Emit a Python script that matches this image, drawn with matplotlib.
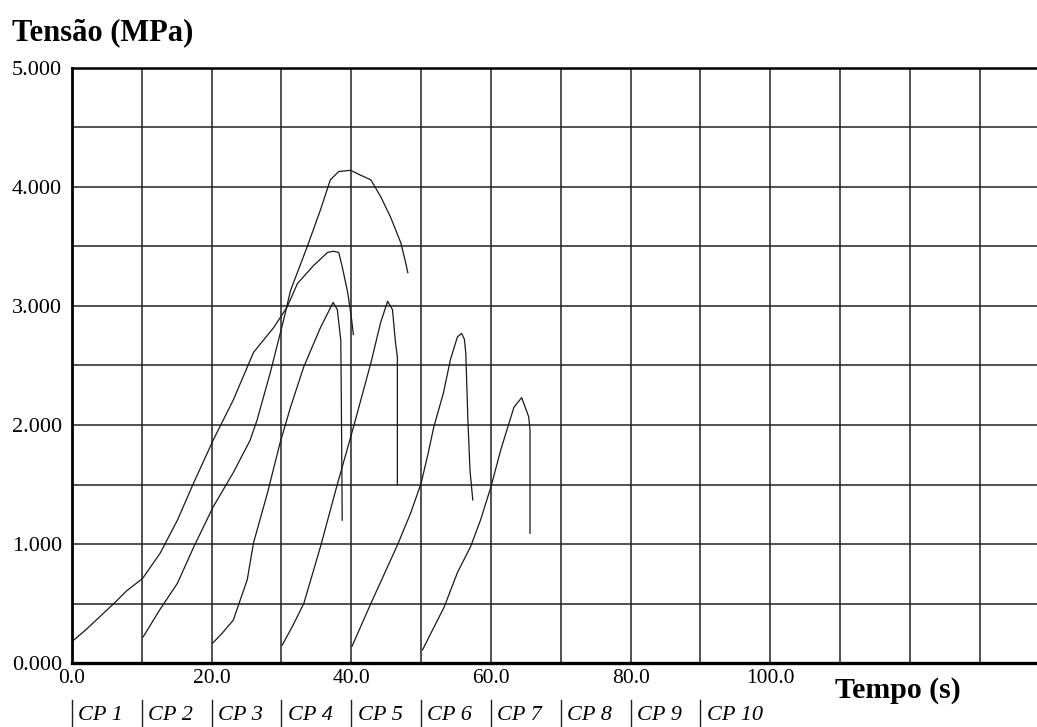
import matplotlib
matplotlib.use("Agg")
import matplotlib.pyplot as plt
import matplotlib.transforms as mtransforms

plt.rcParams['font.family'] = ['Liberation Serif', 'DejaVu Serif']

# curves: time (s) and stress (MPa) for each specimen
t_cp1 = [0.0, 2.0, 4.0, 6.0, 7.9, 10.1, 12.6, 15.1, 17.4, 20.2, 23.1, 26.0, 28.9, 30.8,
         32.3, 34.6, 36.6, 37.4, 38.2, 38.7, 39.5, 40.0, 40.3]
s_cp1 = [0.18, 0.28, 0.39, 0.50, 0.61, 0.71, 0.92, 1.20, 1.51, 1.87, 2.21, 2.61, 2.82, 2.99,
         3.19, 3.34, 3.45, 3.46, 3.45, 3.33, 3.11, 2.91, 2.76]

t_cp2 = [10.2, 12.6, 15.1, 17.4, 20.2, 23.1, 25.5, 26.5, 28.4, 30.3, 31.3, 33.7, 35.6,
         37.0, 38.2, 39.9, 41.3, 42.8, 44.2, 45.6, 47.1, 47.8, 48.1]
s_cp2 = [0.22, 0.45, 0.67, 0.97, 1.31, 1.60, 1.87, 2.04, 2.44, 2.88, 3.13, 3.50, 3.81,
         4.06, 4.13, 4.14, 4.10, 4.06, 3.92, 3.75, 3.53, 3.36, 3.28]

t_cp3 = [20.2, 21.5, 23.1, 25.1, 26.0, 28.0, 29.8, 31.3, 33.2, 35.6, 37.4, 38.0, 38.5, 38.6, 38.7]
s_cp3 = [0.17, 0.25, 0.36, 0.70, 1.01, 1.43, 1.85, 2.15, 2.49, 2.82, 3.03, 2.97, 2.71, 2.02, 1.20]

t_cp4 = [30.1, 31.5, 33.2, 35.6, 37.9, 40.3, 42.8, 44.2, 45.2, 45.9, 46.3, 46.6, 46.6]
s_cp4 = [0.15, 0.30, 0.50, 0.98, 1.48, 1.98, 2.52, 2.86, 3.04, 2.97, 2.71, 2.57, 1.50]

t_cp5 = [40.1, 42.8, 46.6, 48.5, 50.0, 51.0, 51.8, 53.2, 54.2, 55.2, 55.8, 56.2, 56.4,
         56.7, 57.0, 57.4]
s_cp5 = [0.14, 0.50, 0.99, 1.26, 1.51, 1.76, 1.98, 2.27, 2.55, 2.74, 2.77, 2.72, 2.60,
         2.04, 1.62, 1.37]

t_cp6 = [50.2, 51.4, 53.3, 55.2, 57.1, 58.5, 60.0, 61.4, 62.4, 63.3, 64.4, 65.4, 65.6, 65.6]
s_cp6 = [0.11, 0.25, 0.47, 0.76, 0.98, 1.20, 1.48, 1.79, 1.98, 2.15, 2.23, 2.07, 1.96, 1.09]

curves = [(t_cp1, s_cp1), (t_cp2, s_cp2), (t_cp3, s_cp3),
          (t_cp4, s_cp4), (t_cp5, s_cp5), (t_cp6, s_cp6)]

# specimen labels under the axis, one per 10 s slot
cp_labels = ['CP 1', 'CP 2', 'CP 3', 'CP 4', 'CP 5', 'CP 6', 'CP 7', 'CP 8', 'CP 9', 'CP 10']
cp_starts = [0, 10, 20, 30, 40, 50, 60, 70, 80, 90]

x_labels = [0, 20, 40, 60, 80, 100]
y_labels = [0, 1, 2, 3, 4, 5]

fig = plt.figure(figsize=(10.37, 7.27), dpi=100)
ax = fig.add_axes([0.0694, 0.088, 0.9306, 0.8185])

for t, s in curves:
  ax.plot(t, s, color='#1a1a1a', lw=0.9)

ax.set_xlim(0, 138.2)
ax.set_ylim(0, 5)

ax.set_xticks(x_labels)
ax.set_xticklabels(['%.1f' % v for v in x_labels])
ax.set_xticks(range(0, 140, 10), minor=True)
ax.set_yticks(y_labels)
ax.set_yticklabels(['%.3f' % v for v in y_labels])
ax.set_yticks([v * 0.5 for v in range(11)], minor=True)
ax.grid(True, which='both', color='#222222', lw=1.1)
ax.set_axisbelow(True)
ax.tick_params(which='both', length=0)
ax.tick_params(axis='y', labelsize=16, pad=7)
ax.tick_params(axis='x', labelsize=15.5, pad=4)

ax.spines['right'].set_visible(False)
ax.spines['left'].set_linewidth(2.0)
ax.spines['top'].set_linewidth(1.8)
ax.spines['bottom'].set_linewidth(2.4)

# CP labels with small separating bars
trans = mtransforms.blended_transform_factory(ax.transData, ax.transAxes)
for x0, lab in zip(cp_starts, cp_labels):
  ax.plot([x0, x0], [-0.062, -0.108], color='#222222', lw=1.0,
          transform=trans, clip_on=False)
  ax.text(x0 + 0.9, -0.096, lab, transform=trans, fontsize=16,
          style='italic', ha='left', va='baseline')

fig.text(0.012, 0.945, 'Tensão (MPa)', fontsize=22, fontweight='bold',
         ha='left', va='baseline')
fig.text(0.805, 0.041, 'Tempo (s)', fontsize=21.5, fontweight='bold',
         ha='left', va='baseline')

fig.savefig('out.png', dpi=100)
